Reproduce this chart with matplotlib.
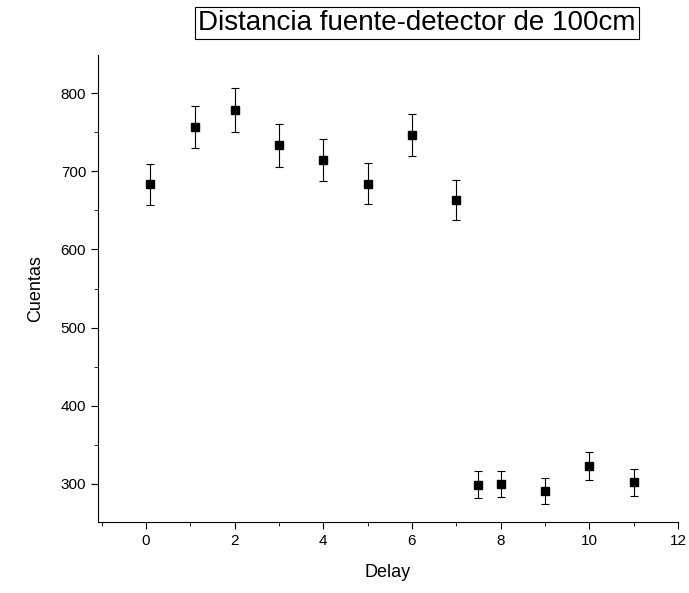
import numpy as np
import matplotlib.pyplot as plt
from matplotlib.ticker import MultipleLocator

plt.rcParams['font.family'] = ['Liberation Sans', 'DejaVu Sans']

delay = [0.1, 1.1, 2, 3, 4, 5, 6, 7, 7.5, 8, 9, 10, 11]
cuentas = [683, 757, 778, 733, 714, 684, 746, 663, 299, 300, 291, 323, 302]
errores = [26, 27, 28, 27, 27, 26, 27, 26, 17, 17, 17, 18, 17]

fig = plt.figure(figsize=(6.89, 5.93), dpi=100)
ax = fig.add_axes([98/689, 1 - 522/593, 580/689, 467/593])

ax.errorbar(delay, cuentas, yerr=errores, fmt='s', color='black', ms=6,
            ecolor='black', elinewidth=0.8, capsize=3, capthick=0.8)

ax.set_xlim(-1.08, 12)
ax.set_ylim(251.4, 848.6)
ax.xaxis.set_major_locator(MultipleLocator(2))
ax.xaxis.set_minor_locator(MultipleLocator(1))
ax.yaxis.set_major_locator(MultipleLocator(100))
ax.yaxis.set_minor_locator(MultipleLocator(50))
ax.tick_params(which='both', direction='out', labelsize=11)
ax.tick_params(which='major', length=5)
ax.tick_params(which='minor', length=3)
ax.spines['top'].set_visible(False)
ax.spines['right'].set_visible(False)
ax.set_xlabel('Delay', fontsize=13, labelpad=12)
ax.set_ylabel('Cuentas', fontsize=13, labelpad=12)

fig.text(417/689, 1 - 23/593, 'Distancia fuente-detector de 100cm', fontsize=20,
         ha='center', va='center',
         bbox=dict(boxstyle='square,pad=0.1', fc='white', ec='black', lw=0.8))

fig.savefig('out.png')
